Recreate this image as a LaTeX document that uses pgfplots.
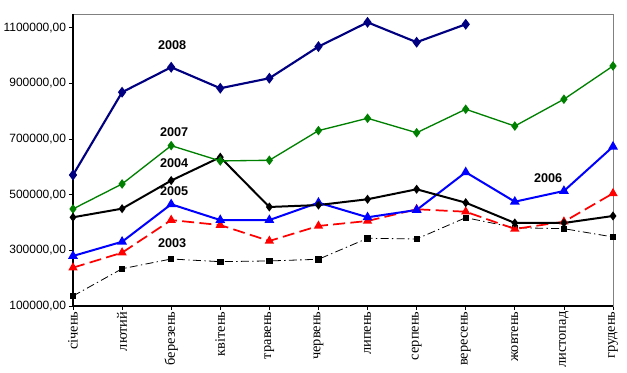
\documentclass[border=0pt]{standalone}
\usepackage{pgfplots}
\pgfplotsset{compat=1.18}
\usepackage{fontspec}
\setmainfont{Liberation Sans}
\newfontfamily\serifcyr{Liberation Serif}
\definecolor{navy08}{RGB}{0,0,128}
\definecolor{green07}{RGB}{0,128,0}
\definecolor{blue05}{RGB}{0,0,255}
\definecolor{red06}{RGB}{255,0,0}
\begin{document}
\begin{tikzpicture}[x=1pt,y=1pt]
\useasboundingbox (-54.75pt,-50.25pt) rectangle (415.5pt,229.5pt);
\begin{axis}[
  at={(0,0)}, anchor=south west,
  scale only axis, width=405pt, height=219pt,
  xmin=0, xmax=11, ymin=100000, ymax=1150000,
  xtick={0,...,11},
  xticklabels={січень,лютий,березень,квітень,травень,червень,липень,серпень,вересень,жовтень,листопад,грудень},
  x tick label style={rotate=90, anchor=east, font=\serifcyr\fontsize{10.8}{11}\selectfont, inner sep=1pt},
  ytick={100000,300000,500000,700000,900000,1100000},
  scaled y ticks=false,
  /pgf/number format/fixed, /pgf/number format/fixed zerofill, /pgf/number format/precision=2,
  /pgf/number format/use comma, /pgf/number format/1000 sep={}, /pgf/number format/assume math mode=true,
  y tick label style={font=\fontsize{9}{10}\selectfont, inner sep=2pt},
  tick align=outside, tick style={black, line width=0.6pt}, major tick length=3pt,
  xtick pos=bottom, ytick pos=left,
  axis line style={draw=gray, line width=0.6pt},
  clip=false,
]
\draw[black, line width=0.8pt] (rel axis cs:0,1) -- (rel axis cs:0,0) -- (rel axis cs:1,0);
% 2003
\addplot[black, line width=0.6pt, dash pattern=on 6pt off 2.5pt on 1pt off 2.5pt, mark=square*, mark size=2pt, mark options={solid}] coordinates {
(0,136000)(1,234000)(2,269000)(3,259400)(4,262000)(5,268000)(6,343500)(7,341000)(8,417600)(9,381600)(10,378000)(11,348200)};
% 2006
\addplot[red06, line width=1.3pt, dash pattern=on 9pt off 4pt, mark=triangle*, mark size=2.8pt, mark options={solid}] coordinates {
(0,237800)(1,291700)(2,409000)(3,391000)(4,333800)(5,387800)(6,405700)(7,447800)(8,439000)(9,377000)(10,403000)(11,505000)};
% 2005
\addplot[blue05, line width=1.5pt, mark=triangle*, mark size=2.8pt] coordinates {
(0,279900)(1,331000)(2,465800)(3,409000)(4,409000)(5,471500)(6,419000)(7,445300)(8,581000)(9,475000)(10,513600)(11,673000)};
% 2004
\addplot[black, line width=1.5pt, mark=diamond*, mark size=2.2pt] coordinates {
(0,419000)(1,450000)(2,551000)(3,635000)(4,456000)(5,463000)(6,483800)(7,519700)(8,471500)(9,398500)(10,398500)(11,423700)};
% 2007
\addplot[green07, line width=1pt, mark=diamond*, mark size=2.8pt] coordinates {
(0,449000)(1,538800)(2,676600)(3,621600)(4,624000)(5,730600)(6,775000)(7,723000)(8,807500)(9,747000)(10,843500)(11,963000)};
% 2008
\addplot[navy08, line width=1.6pt, mark=diamond*, mark size=2.8pt] coordinates {
(0,571000)(1,868700)(2,958500)(3,883000)(4,919000)(5,1032700)(6,1120000)(7,1048500)(8,1113000)};
\begin{scope}[every node/.style={font=\bfseries\fontsize{9.5}{10}\selectfont, inner sep=0pt}]
\node at (axis cs:2.02,1038800) {2008};
\node at (axis cs:2.06,726500) {2007};
\node at (axis cs:2.06,614000) {2004};
\node at (axis cs:2.06,511500) {2005};
\node at (axis cs:2.02,325000) {2003};
\node at (axis cs:9.68,560000) {2006};
\end{scope}
\end{axis}
\end{tikzpicture}
\end{document}
